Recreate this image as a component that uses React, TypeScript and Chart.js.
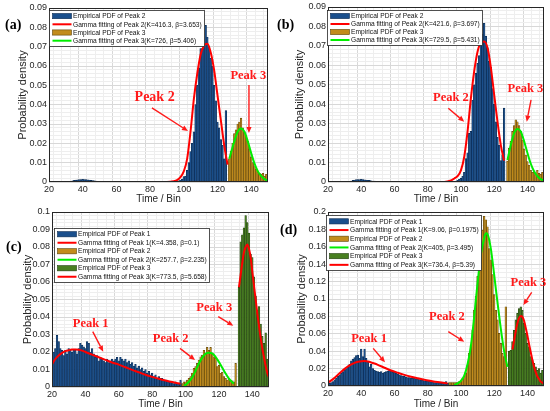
import { useEffect, useRef } from 'react';
import { Chart, registerables } from 'chart.js';

Chart.register(...registerables);

// ---------- panel (a) ----------
const aBlueStart = 20;
const aBlue = [
  0, 0, 0, 0, 0, 0, 0, 0, 0, 0, 0, 0, 0,
  0.0004, 0.0006, 0.0008, 0.001, 0.0011, 0.0012, 0.0013, 0.0014, 0.0013, 0.0012, 0.0011, 0.001, 0.0008, 0.0007, 0.0006, 0.0005, 0.0004, 0.0003,
  0.0003, 0.0002, 0.0003, 0.0002, 0.0002, 0.0003, 0.0002, 0.0002, 0.0001, 0.0002,
  0, 0, 0, 0, 0, 0, 0, 0, 0, 0, 0, 0, 0, 0, 0, 0, 0, 0, 0, 0, 0, 0, 0, 0, 0, 0, 0, 0, 0, 0, 0, 0, 0, 0, 0,
  0.0003, 0.0006, 0.001, 0.0015,
  0.0028, 0.003, 0.006, 0.01, 0.0157, 0.02, 0.026, 0.04, 0.05, 0.059, 0.069, 0.069, 0.071, 0.081, 0.075, 0.07,
  0.064, 0.06, 0.05, 0.042, 0.031, 0.028, 0.022, 0.019, 0.012, 0.037,
];
const aOrangeStart = 127;
const aOrange = [
  0.012, 0.016, 0.02, 0.025, 0.027, 0.03, 0.031, 0.033, 0.028, 0.026, 0.024, 0.021, 0.017, 0.013, 0.01, 0.008,
  0.0066, 0.0053, 0.0045, 0.004, 0.0045, 0.003, 0.004, 0.0025,
];
const aFit2X = [20, 60, 90, 94, 96, 98, 100, 102, 104, 106, 108, 110, 112, 114, 116, 118, 120, 122, 124, 126];
const aFit2Y = [0, 0, 0, 0.0004, 0.001, 0.0025, 0.0055, 0.012, 0.026, 0.043, 0.056, 0.066, 0.0705, 0.0715, 0.067, 0.058, 0.045, 0.032, 0.019, 0.009];
const aFit3X = [127, 128, 130, 132, 134, 136, 138, 140, 142, 144, 146, 148, 150];
const aFit3Y = [0.012, 0.015, 0.021, 0.026, 0.0277, 0.026, 0.021, 0.015, 0.0095, 0.0055, 0.003, 0.0015, 0.0006];

// ---------- panel (b) ----------
const bBlueStart = 20;
const bBlue = [
  0, 0, 0, 0, 0, 0, 0, 0, 0, 0, 0, 0, 0,
  0.0003, 0.0005, 0.0008, 0.001, 0.0012, 0.0013, 0.0012, 0.0014, 0.0013, 0.0011, 0.001, 0.0009, 0.0008, 0.0006, 0.0005, 0.0005, 0.0004, 0.0003,
  0.0003, 0.0003, 0.0002, 0.0002, 0.0003, 0.0002, 0.0002, 0.0002, 0.0001, 0.0001,
  0, 0, 0, 0, 0, 0, 0, 0, 0, 0, 0, 0, 0, 0, 0, 0, 0, 0, 0, 0, 0, 0, 0, 0, 0, 0, 0, 0, 0, 0, 0, 0, 0, 0, 0,
  0.0002, 0.0005, 0.0009, 0.0014,
  0.002, 0.003, 0.005, 0.012, 0.015, 0.025, 0.026, 0.042, 0.05, 0.056, 0.061, 0.065, 0.075, 0.076, 0.0816, 0.075,
  0.069, 0.062, 0.059, 0.048, 0.04, 0.031, 0.023, 0.019, 0.011, 0.014, 0.038,
];
const bOrangeStart = 128;
const bOrange = [
  0.0107, 0.0173, 0.021, 0.026, 0.029, 0.032, 0.031, 0.029, 0.026, 0.0216, 0.017, 0.0139, 0.0105, 0.0087, 0.006,
  0.005, 0.005, 0.0037, 0.006, 0.0045, 0.004, 0.005, 0.004,
];
const bFit2X = [20, 60, 90, 94, 96, 98, 100, 102, 104, 106, 108, 110, 112, 114, 116, 118, 120, 122, 124, 126];
const bFit2Y = [0, 0, 0, 0.0008, 0.0018, 0.003, 0.006, 0.013, 0.026, 0.043, 0.057, 0.067, 0.0715, 0.0722, 0.069, 0.059, 0.045, 0.031, 0.019, 0.011];
const bFit3X = [128, 130, 132, 134, 136, 138, 140, 142, 144, 146, 148, 150];
const bFit3Y = [0.0113, 0.019, 0.025, 0.0272, 0.026, 0.021, 0.015, 0.0095, 0.0055, 0.003, 0.0015, 0.0007];

// ---------- panel (c) ----------
const cBlueStart = 20;
const cBlue = [
  0.018, 0.02, 0.022, 0.0295, 0.026, 0.022, 0.021, 0.018, 0.021, 0.019,
  0.022, 0.021, 0.02, 0.021, 0.021, 0.019, 0.022, 0.025, 0.024, 0.023,
  0.022, 0.026, 0.025, 0.02, 0.022, 0.019, 0.017, 0.018, 0.015, 0.017,
  0.016, 0.015, 0.014, 0.016, 0.014, 0.015, 0.016, 0.015, 0.016, 0.017,
  0.015, 0.017, 0.016, 0.015, 0.016, 0.014, 0.015, 0.013, 0.014, 0.012,
  0.013, 0.011, 0.012, 0.01, 0.011, 0.009, 0.01, 0.008, 0.009, 0.007,
  0.008, 0.006, 0.007, 0.005, 0.006, 0.005, 0.005, 0.004, 0.004, 0.004,
  0.003, 0.003, 0.003, 0.002, 0.003, 0.002, 0.002, 0.004,
];
const cOrangeStart = 98;
const cOrange = [
  0.002, 0.003, 0.003, 0.004, 0.005, 0.006, 0.008, 0.0107, 0.0116, 0.0135, 0.0154, 0.0173, 0.0183, 0.021, 0.019,
  0.0226, 0.021, 0.0226, 0.019, 0.0173, 0.0164, 0.0116, 0.0125, 0.0078, 0.0085, 0.006, 0.005, 0.004, 0.005,
  0.004, 0.0035, 0.003, 0.0135,
];
const cGreenStart = 132;
const cGreen = [
  0.057, 0.083, 0.087, 0.091, 0.098, 0.094, 0.088, 0.076, 0.074, 0.063, 0.052, 0.044, 0.046, 0.036, 0.029,
  0.025, 0.031, 0.016, 0.03,
];
const cFit1X = [20, 22, 24, 26, 28, 30, 32, 34, 36, 38, 40, 44, 48, 52, 56, 60, 64, 68, 72, 76, 80, 84, 88, 92, 97];
const cFit1Y = [0.013, 0.016, 0.018, 0.0195, 0.0205, 0.021, 0.0214, 0.0215, 0.0213, 0.0208, 0.02, 0.0185, 0.017, 0.0155, 0.014, 0.0128, 0.0113, 0.0098, 0.0084, 0.007, 0.0058, 0.0047, 0.0037, 0.0028, 0.0019];
const cFit2X = [99, 100, 102, 104, 106, 108, 110, 112, 114, 116, 118, 120, 122, 124, 126, 128, 129];
const cFit2Y = [0.0008, 0.0012, 0.003, 0.0055, 0.0093, 0.0134, 0.0168, 0.019, 0.0196, 0.0192, 0.0172, 0.0143, 0.011, 0.0077, 0.0048, 0.0027, 0.002];
const cFit3X = [132, 133, 134, 135, 136, 137, 138, 139, 140, 141, 142, 143, 144, 145, 146, 147, 148, 149, 150];
const cFit3Y = [0.057, 0.064, 0.071, 0.077, 0.08, 0.0815, 0.079, 0.074, 0.066, 0.058, 0.05, 0.042, 0.035, 0.028, 0.022, 0.017, 0.012, 0.008, 0.0055];

// ---------- panel (d) ----------
const dBlueStart = 20;
const dBlue = [
  0.003, 0.003, 0.004, 0.005, 0.007, 0.009, 0.011, 0.0126, 0.0146, 0.0165,
  0.018, 0.02, 0.022, 0.025, 0.029, 0.031, 0.0326, 0.035, 0.0356, 0.0318,
  0.0425, 0.0337, 0.0425, 0.0318, 0.028, 0.022, 0.025, 0.02, 0.018, 0.0172,
  0.0165, 0.0157, 0.0165, 0.0146, 0.0157, 0.0165, 0.0172, 0.018, 0.0172, 0.0157,
  0.0157, 0.0146, 0.0134, 0.0126, 0.012, 0.0115, 0.011, 0.0103, 0.0096, 0.0098,
  0.0092, 0.009, 0.0088, 0.0084, 0.008, 0.0075, 0.007, 0.0065, 0.006, 0.0058,
  0.0057, 0.0053, 0.005, 0.0045, 0.004, 0.0039, 0.0038, 0.0036, 0.0035, 0.0033,
  0.003, 0.005, 0.003,
];
const dOrangeStart = 93;
const dOrange = [
  0.004, 0.004, 0.004, 0.004, 0.004, 0.004, 0.005,
  0.006, 0.009, 0.011, 0.015, 0.024, 0.0375, 0.047, 0.064, 0.087, 0.103,
  0.126, 0.145, 0.16, 0.179, 0.195, 0.191, 0.183, 0.158, 0.145, 0.128,
  0.105, 0.087, 0.076, 0.0605, 0.049, 0.0375, 0.0337, 0.091,
];
const dGreenStart = 129;
const dGreen = [
  0.04, 0.041, 0.051, 0.064, 0.076, 0.0835, 0.089, 0.091, 0.087, 0.072, 0.0605, 0.049, 0.045, 0.0337, 0.03,
  0.026, 0.022, 0.018, 0.02, 0.0146, 0.018, 0.012,
];
const dFit1X = [20, 22, 24, 26, 28, 30, 32, 34, 36, 38, 40, 42, 44, 46, 48, 50, 54, 58, 62, 66, 70, 74, 78, 82, 86, 90, 92];
const dFit1Y = [0.004, 0.0065, 0.0095, 0.013, 0.0165, 0.0197, 0.0225, 0.0248, 0.0266, 0.0278, 0.0285, 0.0286, 0.0281, 0.0271, 0.0258, 0.0243, 0.021, 0.0178, 0.0152, 0.0128, 0.0107, 0.0089, 0.0072, 0.0058, 0.0045, 0.0034, 0.003];
const dFit2X = [96, 98, 100, 102, 104, 106, 108, 110, 112, 114, 115, 116, 118, 120, 122, 124, 126, 128];
const dFit2Y = [0.001, 0.003, 0.006, 0.012, 0.025, 0.046, 0.08, 0.118, 0.151, 0.17, 0.1755, 0.1745, 0.158, 0.128, 0.096, 0.066, 0.04, 0.022];
const dFit3X = [131, 132, 133, 134, 135, 136, 137, 138, 139, 140, 141, 142, 143, 144, 145, 146, 147, 148, 150];
const dFit3Y = [0.042, 0.052, 0.063, 0.072, 0.078, 0.0805, 0.0795, 0.075, 0.067, 0.058, 0.048, 0.039, 0.03, 0.022, 0.016, 0.011, 0.008, 0.005, 0.003];

// ---------- styles ----------
const BLUE = '#1a4f8c';
const BLUE_EDGE = '#0b2a50';
const ORANGE = '#c28c1c';
const ORANGE_EDGE = '#5e4409';
const GREEN = '#487f20';
const GREEN_EDGE = '#1f3d0c';
const RED = '#ff0000';
const LIME = '#00ee00';
const NOTE = '#ff1a1a';
const AXIS = '#262626';

const bins = (start: number, vals: number[]) => vals.map((v, i) => ({ x: start + i, y: v }));
const pts = (X: number[], Y: number[]) => X.map((x, i) => ({ x, y: Y[i] }));

const near = (v: number, step: number) => Math.abs(v / step - Math.round(v / step)) < 1e-6;

const barSet = (label: string, start: number, vals: number[], fill: string, edge: string) => ({
  type: 'bar' as const,
  label,
  data: bins(start, vals),
  backgroundColor: fill,
  borderColor: edge,
  borderWidth: 0.6,
  barPercentage: 1,
  categoryPercentage: 1,
  grouped: false,
  order: 2,
});

const lineSet = (label: string, X: number[], Y: number[], color: string) => ({
  type: 'line' as const,
  label,
  data: pts(X, Y),
  borderColor: color,
  borderWidth: 2,
  pointRadius: 0,
  fill: false,
  cubicInterpolationMode: 'monotone' as const,
  order: 0,
});

const patch = (text: string, fill: string, edge: string) => ({ kind: 'patch', text, fill, edge });
const line = (text: string, color: string) => ({ kind: 'line', text, color });

const panels = [
  {
    key: 'a', x: 0, y: 0, w: 275, h: 205,
    area: { l: 49, r: 268, t: 8, b: 182 },
    yMax: 0.09, yMajor: 0.01, yMinor: 0.002,
    label: '(a)', labelX: 5, labelY: 25.5, yTitleX: 23, xTitleY: 199,
    datasets: [
      lineSet('fit2', aFit2X, aFit2Y, RED),
      lineSet('fit3', aFit3X, aFit3Y, LIME),
      barSet('peak2', aBlueStart, aBlue, BLUE, BLUE_EDGE),
      barSet('peak3', aOrangeStart, aOrange, ORANGE, ORANGE_EDGE),
    ],
    legend: {
      dx: 0, dy: 2, rowH: 8.2,
      items: [
        patch('Empirical PDF of Peak 2', BLUE, BLUE_EDGE),
        line('Gamma fitting of Peak 2(K=416.3, β=3.653)', RED),
        patch('Empirical PDF of Peak 3', ORANGE, ORANGE_EDGE),
        line('Gamma fitting of Peak 3(K=726, β=5.406)', LIME),
      ],
    },
    notes: [
      { text: 'Peak 2', size: 14, tx: 82.7, ty: 0.0436, x1: 81.1, y1: 0.0383, x2: 102.5, y2: 0.0264 },
      { text: 'Peak 3', size: 12.5, tx: 138.3, ty: 0.0548, x1: 138.7, y1: 0.0502, x2: 138.7, y2: 0.0253 },
    ],
  },
  {
    key: 'b', x: 275, y: 0, w: 275, h: 205,
    area: { l: 53, r: 269, t: 7, b: 182 },
    yMax: 0.09, yMajor: 0.01, yMinor: 0.002,
    label: '(b)', labelX: 2, labelY: 25.7, yTitleX: 25, xTitleY: 199,
    datasets: [
      lineSet('fit2', bFit2X, bFit2Y, RED),
      lineSet('fit3', bFit3X, bFit3Y, LIME),
      barSet('peak2', bBlueStart, bBlue, BLUE, BLUE_EDGE),
      barSet('peak3', bOrangeStart, bOrange, ORANGE, ORANGE_EDGE),
    ],
    legend: {
      dx: -1, dy: 3, rowH: 8.0,
      items: [
        patch('Empirical PDF of Peak 2', BLUE, BLUE_EDGE),
        line('Gamma fitting of Peak 2(K=421.6, β=3.697)', RED),
        patch('Empirical PDF of Peak 3', ORANGE, ORANGE_EDGE),
        line('Gamma fitting of Peak 3(K=729.5, β=5.431)', LIME),
      ],
    },
    notes: [
      { text: 'Peak 2', size: 12.5, tx: 94, ty: 0.0434, x1: 92.4, y1: 0.0379, x2: 102.0, y2: 0.031 },
      { text: 'Peak 3', size: 12.5, tx: 138.8, ty: 0.0477, x1: 142.2, y1: 0.0422, x2: 139.6, y2: 0.031 },
    ],
  },
  {
    key: 'c', x: 0, y: 205, w: 275, h: 206,
    area: { l: 52, r: 269, t: 7, b: 182 },
    yMax: 0.1, yMajor: 0.01, yMinor: 0.002,
    label: '(c)', labelX: 6, labelY: 42.8, yTitleX: 27.5, xTitleY: 199.3,
    datasets: [
      lineSet('fit1', cFit1X, cFit1Y, RED),
      lineSet('fit2', cFit2X, cFit2Y, LIME),
      lineSet('fit3', cFit3X, cFit3Y, RED),
      barSet('peak1', cBlueStart, cBlue, BLUE, BLUE_EDGE),
      barSet('peak2', cOrangeStart, cOrange, ORANGE, ORANGE_EDGE),
      barSet('peak3', cGreenStart, cGreen, GREEN, GREEN_EDGE),
    ],
    legend: {
      dx: 2, dy: 16, rowH: 8.5,
      items: [
        patch('Empirical PDF of Peak 1', BLUE, BLUE_EDGE),
        line('Gamma fitting of Peak 1(K=4.358, β=0.1)', RED),
        patch('Empirical PDF of Peak 2', ORANGE, ORANGE_EDGE),
        line('Gamma fitting of Peak 2(K=257.7, β=2.235)', LIME),
        patch('Empirical PDF of Peak 3', GREEN, GREEN_EDGE),
        line('Gamma fitting of Peak 3(K=773.5, β=5.658)', RED),
      ],
    },
    notes: [
      { text: 'Peak 1', size: 12.5, tx: 43.2, ty: 0.036, x1: 44.4, y1: 0.0316, x2: 50.7, y2: 0.0202 },
      { text: 'Peak 2', size: 12.5, tx: 91.1, ty: 0.0274, x1: 96.7, y1: 0.0221, x2: 105.7, y2: 0.0154 },
      { text: 'Peak 3', size: 12.5, tx: 117.2, ty: 0.0455, x1: 119.6, y1: 0.0402, x2: 128.6, y2: 0.035 },
    ],
  },
  {
    key: 'd', x: 275, y: 205, w: 275, h: 206,
    area: { l: 53, r: 269, t: 7, b: 181 },
    yMax: 0.2, yMajor: 0.02, yMinor: 0.005,
    label: '(d)', labelX: 5, labelY: 25.3, yTitleX: 26.5, xTitleY: 199.3,
    datasets: [
      lineSet('fit1', dFit1X, dFit1Y, RED),
      lineSet('fit2', dFit2X, dFit2Y, LIME),
      lineSet('fit3', dFit3X, dFit3Y, RED),
      barSet('peak1', dBlueStart, dBlue, BLUE, BLUE_EDGE),
      barSet('peak2', dOrangeStart, dOrange, ORANGE, ORANGE_EDGE),
      barSet('peak3', dGreenStart, dGreen, GREEN, GREEN_EDGE),
    ],
    legend: {
      dx: -2, dy: 3, rowH: 8.7,
      items: [
        patch('Empirical PDF of Peak 1', BLUE, BLUE_EDGE),
        line('Gamma fitting of Peak 1(K=9.06, β=0.1975)', RED),
        patch('Empirical PDF of Peak 2', ORANGE, ORANGE_EDGE),
        line('Gamma fitting of Peak 2(K=405, β=3.495)', LIME),
        patch('Empirical PDF of Peak 3', GREEN, GREEN_EDGE),
        line('Gamma fitting of Peak 3(K=736.4, β=5.39)', RED),
      ],
    },
    notes: [
      { text: 'Peak 1', size: 12.5, tx: 44.7, ty: 0.054, x1: 47.2, y1: 0.0433, x2: 54.3, y2: 0.0272 },
      { text: 'Peak 2', size: 12.5, tx: 91.6, ty: 0.0797, x1: 92.4, y1: 0.0624, x2: 102, y2: 0.0509 },
      { text: 'Peak 3', size: 12.5, tx: 140.6, ty: 0.119, x1: 142.6, y1: 0.1077, x2: 137.6, y2: 0.0931 },
    ],
  },
];

type PanelCfg = (typeof panels)[number];

// frame, legend box, peak notes and panel letter, drawn over the plot
const decor = {
  id: 'decor',
  afterDraw(chart: any, _args: any, o: any) {
    const { ctx, chartArea: ca, scales } = chart;
    const px = (v: number) => scales.x.getPixelForValue(v);
    const py = (v: number) => scales.y.getPixelForValue(v);
    ctx.save();

    // axes box
    ctx.strokeStyle = AXIS;
    ctx.lineWidth = 1;
    ctx.strokeRect(Math.round(ca.left) + 0.5, Math.round(ca.top) + 0.5,
      Math.round(ca.right - ca.left) - 1, Math.round(ca.bottom - ca.top) - 1);

    // notes
    for (const n of o.notes) {
      const x1 = px(n.x1), y1 = py(n.y1), x2 = px(n.x2), y2 = py(n.y2);
      const ang = Math.atan2(y2 - y1, x2 - x1);
      const hl = 6, hw = 2.6;
      const bx = x2 - hl * Math.cos(ang), by = y2 - hl * Math.sin(ang);
      ctx.strokeStyle = NOTE;
      ctx.fillStyle = NOTE;
      ctx.lineWidth = 1.4;
      ctx.beginPath();
      ctx.moveTo(x1, y1);
      ctx.lineTo(bx, by);
      ctx.stroke();
      ctx.beginPath();
      ctx.moveTo(x2, y2);
      ctx.lineTo(bx - hw * Math.sin(ang), by + hw * Math.cos(ang));
      ctx.lineTo(bx + hw * Math.sin(ang), by - hw * Math.cos(ang));
      ctx.closePath();
      ctx.fill();
      ctx.font = `bold ${n.size}px "Liberation Serif", "Times New Roman", serif`;
      ctx.textAlign = 'center';
      ctx.textBaseline = 'middle';
      ctx.fillText(n.text, px(n.tx), py(n.ty));
    }

    // legend
    const L = o.legend;
    const lx = Math.round(ca.left + L.dx) + 0.5;
    const ly = Math.round(ca.top + L.dy) + 0.5;
    const lw = 155;
    const lh = Math.round(L.items.length * L.rowH + 3);
    ctx.fillStyle = '#ffffff';
    ctx.fillRect(lx, ly, lw, lh);
    ctx.strokeStyle = AXIS;
    ctx.lineWidth = 0.8;
    ctx.strokeRect(lx, ly, lw, lh);
    ctx.font = '7px "Liberation Sans", Arial, sans-serif';
    ctx.textAlign = 'left';
    ctx.textBaseline = 'middle';
    L.items.forEach((it: any, i: number) => {
      const cy = ly + 1.5 + L.rowH * (i + 0.5);
      if (it.kind === 'patch') {
        ctx.fillStyle = it.fill;
        ctx.fillRect(lx + 3, cy - 2.6, 19, 5.2);
        ctx.strokeStyle = it.edge;
        ctx.lineWidth = 0.6;
        ctx.strokeRect(lx + 3, cy - 2.6, 19, 5.2);
      } else {
        ctx.strokeStyle = it.color;
        ctx.lineWidth = 2;
        ctx.beginPath();
        ctx.moveTo(lx + 3, cy);
        ctx.lineTo(lx + 22, cy);
        ctx.stroke();
      }
      ctx.fillStyle = '#111111';
      const tw = ctx.measureText(it.text).width;
      ctx.fillText(it.text, lx + 23.5, cy + 0.3, Math.min(tw * 0.95, lw - 25));
    });

    // panel letter
    ctx.fillStyle = '#000000';
    ctx.font = 'bold 14px "Liberation Serif", "Times New Roman", serif';
    ctx.textAlign = 'left';
    ctx.textBaseline = 'middle';
    ctx.fillText(o.label, o.labelX, o.labelY);
    ctx.restore();
  },
};

function Panel({ p }: { p: PanelCfg }) {
  const canvasRef = useRef<HTMLCanvasElement>(null);

  useEffect(() => {
    if (!canvasRef.current) return;
    const { area, w, h } = p;
    const yTitleFont = 11;
    const xTitleFont = 10;

    const chart = new Chart(canvasRef.current, {
      type: 'bar',
      data: { datasets: p.datasets as any },
      plugins: [decor],
      options: {
        responsive: false,
        animation: false,
        events: [],
        layout: { padding: { left: 0, top: area.t, right: w - area.r, bottom: 0 } },
        plugins: {
          legend: { display: false },
          tooltip: { enabled: false },
          decor: { legend: p.legend, notes: p.notes, label: p.label, labelX: p.labelX, labelY: p.labelY },
        } as any,
        scales: {
          x: {
            type: 'linear',
            min: 20,
            max: 150,
            offset: false,
            afterFit: (s: any) => {
              s.height = h - area.b;
              s.paddingLeft = 0;
              s.paddingRight = 0;
            },
            ticks: {
              stepSize: 5,
              autoSkip: false,
              maxRotation: 0,
              minRotation: 0,
              padding: 2,
              color: AXIS,
              font: { size: 9 },
              callback: (v: any) => (near(Number(v), 20) ? String(v) : ''),
            },
            grid: {
              drawTicks: false,
              color: (c: any) => (near(c.tick?.value ?? 0, 20) ? '#d8d8d8' : '#eeeeee'),
            },
            border: { display: false },
            title: {
              display: true,
              text: 'Time / Bin',
              color: AXIS,
              font: { size: xTitleFont },
              padding: { top: 0, bottom: Math.max(0, h - p.xTitleY - xTitleFont * 0.6) },
            },
          },
          y: {
            type: 'linear',
            min: 0,
            max: p.yMax,
            afterFit: (s: any) => {
              s.width = area.l;
              s.paddingTop = 0;
              s.paddingBottom = 0;
            },
            ticks: {
              stepSize: p.yMinor,
              autoSkip: false,
              padding: 2,
              color: AXIS,
              font: { size: 9 },
              callback: (v: any) => (near(Number(v), p.yMajor) ? String(+Number(v).toFixed(3)) : ''),
            },
            grid: {
              drawTicks: false,
              color: (c: any) => (near(c.tick?.value ?? 0, p.yMajor) ? '#d8d8d8' : '#eeeeee'),
            },
            border: { display: false },
            title: {
              display: true,
              text: 'Probability density',
              color: AXIS,
              font: { size: yTitleFont },
              padding: { top: Math.max(0, p.yTitleX - yTitleFont * 0.6), bottom: 0 },
            },
          },
        },
      },
    });

    return () => chart.destroy();
  }, [p]);

  return (
    <canvas
      ref={canvasRef}
      width={p.w}
      height={p.h}
      style={{ position: 'absolute', left: p.x, top: p.y, width: p.w, height: p.h }}
    />
  );
}

export default function App() {
  Chart.defaults.font.family = '"Liberation Sans", Arial, Helvetica, sans-serif';
  return (
    <div style={{ position: 'fixed', left: 0, top: 0, width: 550, height: 411, background: '#ffffff' }}>
      {panels.map(p => (
        <Panel key={p.key} p={p} />
      ))}
    </div>
  );
}
